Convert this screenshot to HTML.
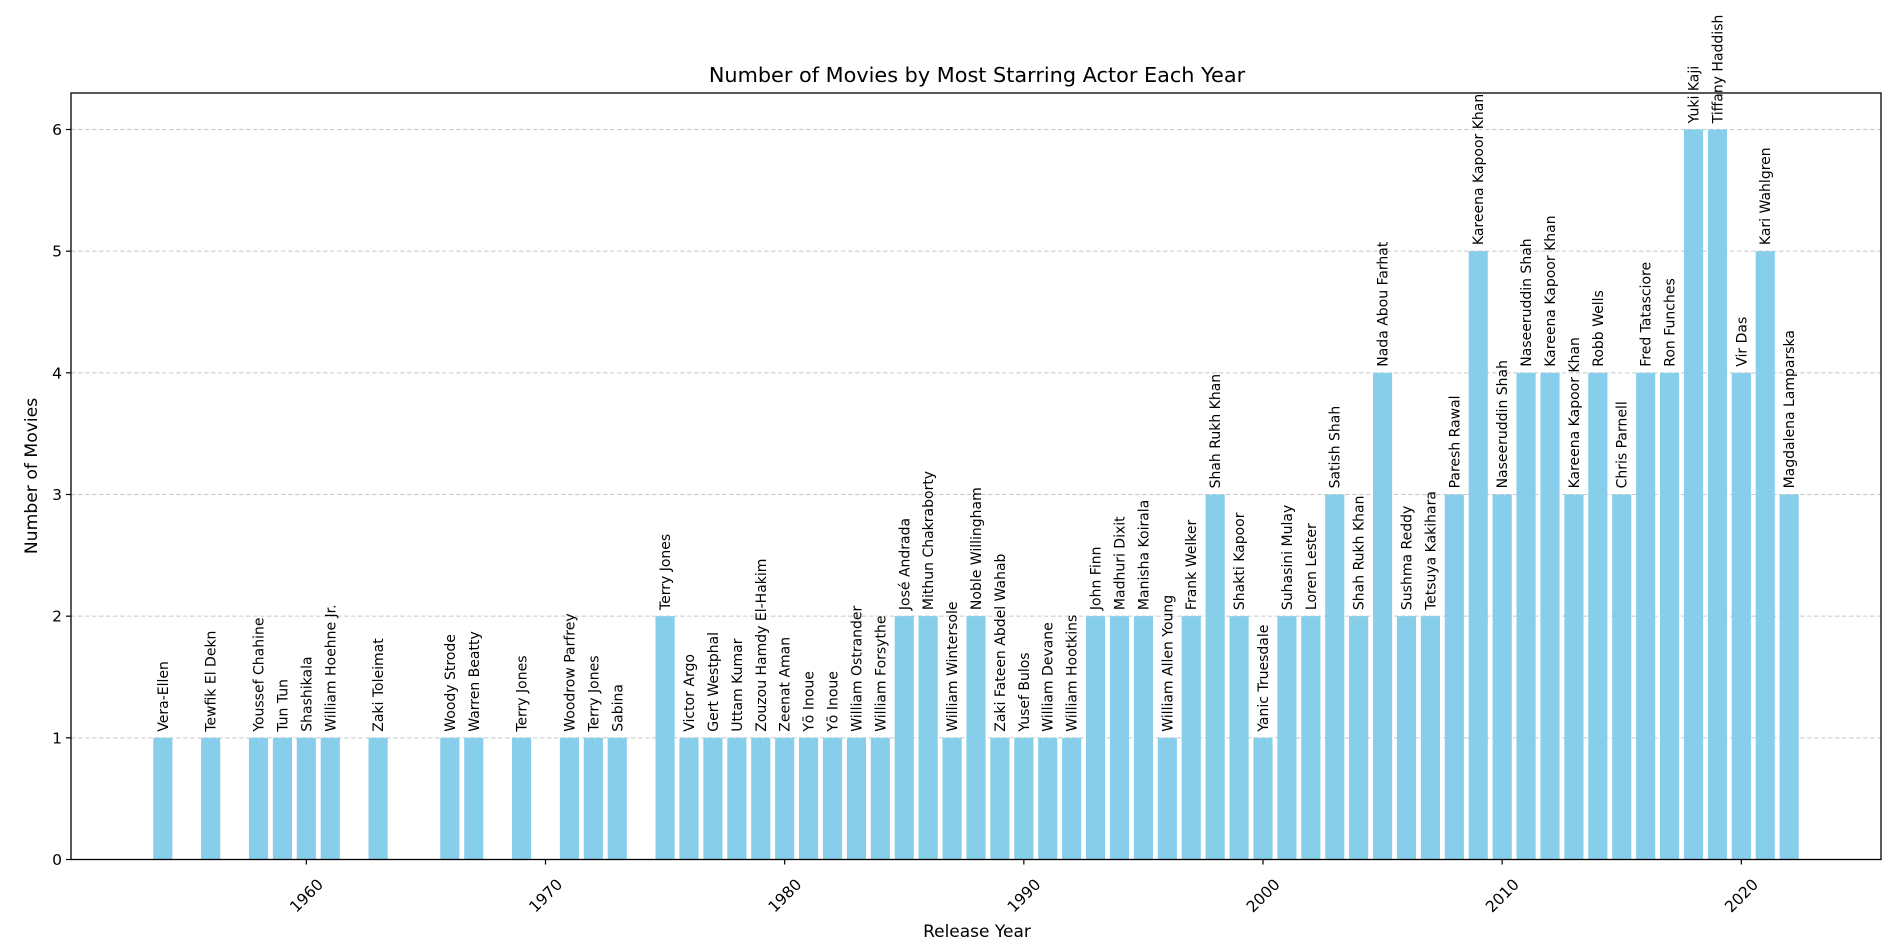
<!DOCTYPE html>
<html><head><meta charset="utf-8"><style>
html,body{margin:0;padding:0;background:#fff;}
svg{display:block;font-family:"DejaVu Sans","Liberation Sans",sans-serif;}
</style></head><body>
<svg id="chart" width="1893" height="951" viewBox="0 0 1893 951">
<rect x="0" y="0" width="1893" height="951" fill="#fff"/>
<g id="grid"></g>
<g id="bars"></g>
<rect x="71" y="93" width="1810" height="766.5" fill="none" stroke="#000" stroke-width="1.3"/>
<g id="yticks"></g>
<g id="xticks"></g>
<g id="labels"></g>
<text x="977" y="82" text-anchor="middle" font-size="20.8">Number of Movies by Most Starring Actor Each Year</text>
<text x="977" y="937" text-anchor="middle" font-size="17">Release Year</text>
<text transform="translate(37,476) rotate(-90)" text-anchor="middle" font-size="17.2">Number of Movies</text>
</svg>
<script>
const years = [1954,1956,1958,1959,1960,1961,1963,1966,1967,1969,1971,1972,1973,1975,1976,1977,1978,1979,1980,1981,1982,1983,1984,1985,1986,1987,1988,1989,1990,1991,1992,1993,1994,1995,1996,1997,1998,1999,2000,2001,2002,2003,2004,2005,2006,2007,2008,2009,2010,2011,2012,2013,2014,2015,2016,2017,2018,2019,2020,2021,2022];
const counts = [1,1,1,1,1,1,1,1,1,1,1,1,1,2,1,1,1,1,1,1,1,1,1,2,2,1,2,1,1,1,1,2,2,2,1,2,3,2,1,2,2,3,2,4,2,2,3,5,3,4,4,3,4,3,4,4,6,6,4,5,3];
const actors = ["Vera-Ellen","Tewfik El Dekn","Youssef Chahine","Tun Tun","Shashikala","William Hoehne Jr.","Zaki Toleimat","Woody Strode","Warren Beatty","Terry Jones","Woodrow Parfrey","Terry Jones","Sabina","Terry Jones","Victor Argo","Gert Westphal","Uttam Kumar","Zouzou Hamdy El-Hakim","Zeenat Aman","Yō Inoue","Yō Inoue","William Ostrander","William Forsythe","José Andrada","Mithun Chakraborty","William Wintersole","Noble Willingham","Zaki Fateen Abdel Wahab","Yusef Bulos","William Devane","William Hootkins","John Finn","Madhuri Dixit","Manisha Koirala","William Allen Young","Frank Welker","Shah Rukh Khan","Shakti Kapoor","Yanic Truesdale","Suhasini Mulay","Loren Lester","Satish Shah","Shah Rukh Khan","Nada Abou Farhat","Sushma Reddy","Tetsuya Kakihara","Paresh Rawal","Kareena Kapoor Khan","Naseeruddin Shah","Naseeruddin Shah","Kareena Kapoor Khan","Kareena Kapoor Khan","Robb Wells","Chris Parnell","Fred Tatasciore","Ron Funches","Yuki Kaji","Tiffany Haddish","Vir Das","Kari Wahlgren","Magdalena Lamparska"];
const yTicks = [0,1,2,3,4,5,6];
const xTicks = [1960,1970,1980,1990,2000,2010,2020];

const NS = "http://www.w3.org/2000/svg";
const L = 71, R = 1881, T = 93, B = 859.5;
const minY = Math.min(...years), maxY = Math.max(...years);
const span = (maxY + 0.4) - (minY - 0.4);
const x0 = minY - 0.4 - span * 0.05, x1 = maxY + 0.4 + span * 0.05;
const yMax = Math.max(...counts) * 1.05;
const xs = v => L + (v - x0) / (x1 - x0) * (R - L);
const ys = v => B - v / yMax * (B - T);
function mk(tag, attrs, parent) {
  const e = document.createElementNS(NS, tag);
  for (const k in attrs) e.setAttribute(k, attrs[k]);
  parent.appendChild(e);
  return e;
}
const grid = document.getElementById('grid'), yt = document.getElementById('yticks');
yTicks.forEach(v => {
  const y = ys(v);
  const g = mk('line', {x1: L, x2: R, y1: y, y2: y, stroke: '#b0b0b0', 'stroke-width': 1, 'stroke-dasharray': '4.5,2.5', opacity: 0.7}, grid);
  
  
  const t = mk('line', {x1: L - 5, x2: L, y1: y, y2: y, stroke: '#000', 'stroke-width': 1.2}, yt);
  
  
  const tx = mk('text', {x: L - 9, y: y + 5.5, 'text-anchor': 'end', 'font-size': 15.5}, yt);
  tx.textContent = v;
  
  
});
const xt = document.getElementById('xticks');
xTicks.forEach(v => {
  const x = xs(v);
  const t = mk('line', {x1: x, x2: x, y1: B, y2: B + 5, stroke: '#000', 'stroke-width': 1.2}, xt);
  
  
  const tx = mk('text', {transform: `translate(${x},${B + 36}) rotate(-45)`, 'text-anchor': 'middle', 'font-size': 15.5, dy: '0.35em'}, xt);
  tx.textContent = v;
  
  
});
const bars = document.getElementById('bars'), labels = document.getElementById('labels');
const bw = 0.8;
years.forEach((yr, i) => {
  const xl = xs(yr - bw / 2), xr = xs(yr + bw / 2), yt2 = ys(counts[i]);
  const b = mk('rect', {x: xl, y: yt2, width: xr - xl, height: B - yt2, fill: '#87ceeb'}, bars);
  
  
  const cx = xs(yr);
  const ly = ys(counts[i] + 0.05);
  const t = mk('text', {transform: `translate(${cx + 5},${ly}) rotate(-90)`, 'text-anchor': 'start', 'font-size': 14}, labels);
  t.textContent = actors[i];
  
  
});
</script>
</body></html>
